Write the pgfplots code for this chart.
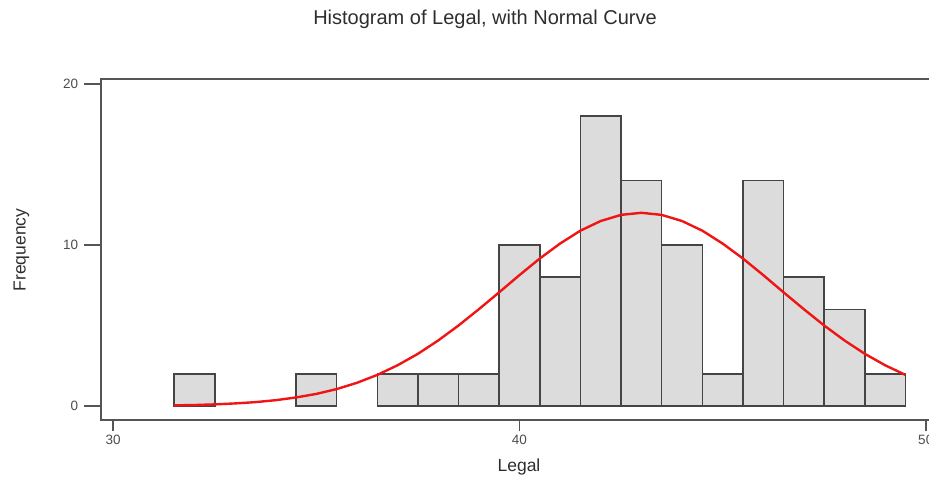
\documentclass[border=0pt]{standalone}
\usepackage{pgfplots}
\pgfplotsset{compat=1.18}
\usepackage{fontspec}
\setmainfont{Liberation Sans}
\definecolor{barfill}{HTML}{DCDCDC}
\definecolor{baredge}{HTML}{454545}
\definecolor{framecol}{HTML}{555555}
\definecolor{textcol}{HTML}{2E2E2E}
\definecolor{curvecol}{HTML}{F01414}

\begin{document}
\begin{tikzpicture}
\useasboundingbox (-101pt,-59pt) rectangle (828pt,420pt);
\clip (-101pt,-59pt) rectangle (828pt,420pt);
\begin{axis}[
  at={(0pt,0pt)}, anchor=south west, scale only axis,
  width=841pt, height=341pt,
  xmin=29.7, xmax=50.4, ymin=-0.87, ymax=20.31,
  xtick={30,40,50}, ytick={0,10,20},
  axis line style={framecol, line width=1.5pt},
  tick align=outside, xtick pos=bottom, ytick pos=left,
  xtick style={framecol, line width=1.5pt, /pgfplots/major tick length=11pt},
  ytick style={framecol, line width=1.5pt, /pgfplots/major tick length=17pt},
  /pgf/number format/assume math mode=true,
  tick label style={font=\fontsize{13.5}{16}\selectfont, text=textcol!85},
  yticklabel style={xshift=-15pt},
  xticklabel style={yshift=-7pt},
  title={Histogram of Legal, with Normal Curve},
  title style={at={(axis description cs:0.4566,1.158)}, anchor=center,
    font=\fontsize{20}{24}\selectfont, text=textcol},
  xlabel={Legal},
  xlabel style={at={(axis description cs:0.497,-0.138)}, anchor=center,
    font=\fontsize{17.5}{21}\selectfont, text=textcol},
  ylabel={Frequency},
  ylabel style={at={(axis description cs:-0.0945,0.4985)}, anchor=center,
    font=\fontsize{17.5}{21}\selectfont, text=textcol},
]
% histogram bins of width 1
\addplot[ybar, bar width=1, bar shift=0pt, fill=barfill, draw=baredge, line width=1.5pt]
  coordinates {(32,2) (35,2) (37,2) (38,2) (39,2) (40,10) (41,8) (42,18)
               (43,14) (44,10) (45,2) (46,14) (47,8) (48,6) (49,2)};
% fitted normal curve
\addplot[curvecol, line width=2.4pt] coordinates {
  (31.5,0.04) (32,0.06) (32.5,0.10) (33,0.16) (33.5,0.24) (34,0.36)
  (34.5,0.53) (35,0.75) (35.5,1.05) (36,1.44) (36.5,1.93) (37,2.53)
  (37.5,3.24) (38,4.07) (38.5,5.00) (39,6.01) (39.5,7.06) (40,8.13)
  (40.5,9.16) (41,10.09) (41.5,10.89) (42,11.49) (42.5,11.87) (43,12.00)
  (43.5,11.87) (44,11.49) (44.5,10.89) (45,10.09) (45.5,9.16) (46,8.13)
  (46.5,7.06) (47,6.01) (47.5,5.00) (48,4.07) (48.5,3.24) (49,2.53)
  (49.5,1.93)};
\end{axis}
\end{tikzpicture}
\end{document}
